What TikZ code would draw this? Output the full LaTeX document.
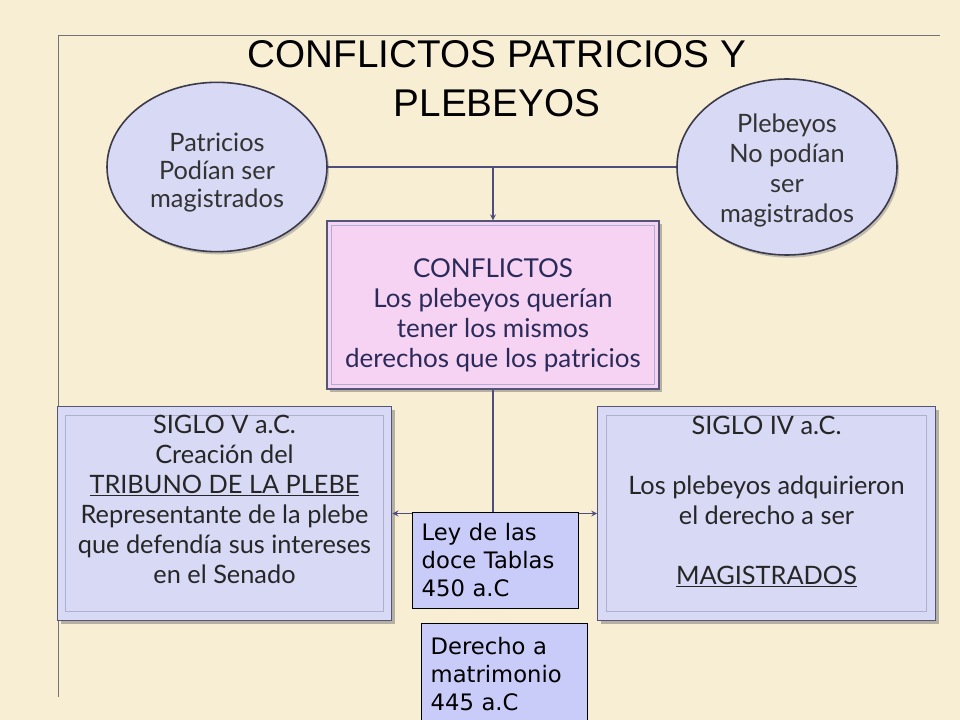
\documentclass[tikz,border=0pt]{standalone}
\usepackage{fontspec}
\setmainfont{Lato}
\newfontfamily\titlefont{Liberation Sans}
\newfontfamily\notefont{DejaVu Sans}
\usetikzlibrary{shapes.geometric,shadows}

\definecolor{parchment}{HTML}{F8EED3}
\definecolor{lavender}{HTML}{D7D9F5}
\definecolor{rosy}{HTML}{F6D3F3}
\definecolor{notefill}{HTML}{C9CBF9}
\definecolor{linkcol}{HTML}{4E4E7E}
\definecolor{ovalline}{HTML}{3A3A4A}
\definecolor{boxline}{HTML}{55557A}
\definecolor{insetline}{HTML}{AEB0D2}
\definecolor{navytext}{HTML}{2B2B5A}

\begin{document}
\begin{tikzpicture}[
    x=0.75pt, y=-0.75pt,
    >=stealth,
    oval/.style={
      ellipse,
      draw=ovalline,
      line width=1.2pt,
      fill=lavender,
      drop shadow={shadow xshift=1.5pt,shadow yshift=-2pt,fill=black!45}
    },
    ovaltext/.style={
      align=center,
      text=black!80,
      font=\fontsize{19}{22.5}\selectfont
    },
    bevel/.style={
      rectangle,
      draw=boxline,
      line width=0.9pt,
      drop shadow={shadow xshift=2.5pt,shadow yshift=-2.5pt,fill=black!55}
    },
    boxtext/.style={
      align=center,
      font=\fontsize{19}{22.5}\selectfont
    },
    inset/.style={
      draw=insetline,
      line width=0.8pt
    },
    note/.style={
      rectangle,
      draw=black,
      line width=0.6pt,
      fill=notefill,
      align=left,
      anchor=north west,
      inner xsep=7pt,
      text width=110.5pt,
      font=\notefont\fontsize{17}{21}\selectfont
    },
    link/.style={
      draw=linkcol,
      line width=1pt
    }
  ]
    \fill[parchment] (0,0) rectangle (960,720);
    \useasboundingbox (0,0) rectangle (960,720);

    \draw[black!55,line width=0.6pt] (58,697) -- (58,35) -- (940,35);

    \node[font=\titlefont\fontsize{29}{36.5}\selectfont,align=center] (title) at (497,79)
      {CONFLICTOS PATRICIOS Y\\PLEBEYOS};

    \node[oval,minimum width=165pt,minimum height=127pt] (patricios) at (217,167) {};
    \node[oval,minimum width=165pt,minimum height=132pt] (plebeyos) at (787,167) {};
    \node[bevel,fill=rosy,minimum width=249pt,minimum height=126pt] (conflictos) at (493,305) {};
    \node[bevel,fill=lavender,minimum width=251pt,minimum height=160pt] (sigloV) at (224.5,513.5) {};
    \node[bevel,fill=lavender,minimum width=253pt,minimum height=160pt] (sigloIV) at (766.5,513.5) {};

    \foreach \n/\d in {conflictos/5,sigloV/9,sigloIV/9}
      \draw[inset] ([shift={(\d,\d)}]\n.north west) rectangle ([shift={(-\d,-\d)}]\n.south east);

    \node[ovaltext,font=\fontsize{19}{21}\selectfont] (patriciosText) at ([yshift=-4.5pt]patricios.center)
      {Patricios\\Podían ser\\magistrados};
    \node[ovaltext] (plebeyosText) at ([yshift=-2.25pt]plebeyos.center)
      {Plebeyos\\No podían\\ser\\magistrados};
    \node[boxtext,text=navytext,font=\fontsize{19.5}{22.5}\selectfont] (conflictosText) at ([yshift=-7.5pt]conflictos.center)
      {CONFLICTOS\\Los plebeyos querían\\tener los mismos\\derechos que los patricios};
    \node[boxtext,text=black!85] (sigloVText) at ([yshift=10.5pt]sigloV.center)
      {SIGLO V a.C.\\Creación del\\\underline{TRIBUNO DE LA PLEBE}\\Representante de la plebe\\que defendía sus intereses\\en el Senado};
    \node[boxtext,text=black!85] (sigloIVText) at ([yshift=9pt]sigloIV.center)
      {SIGLO IV a.C.\\[22.5pt]Los plebeyos adquirieron\\el derecho a ser\\[22.5pt]\underline{MAGISTRADOS}};

    \coordinate (top) at (patricios.east -| conflictos.north);
    \coordinate (bottom) at (conflictos.south |- sigloV.east);

    \draw[link] (patricios.east) -- (plebeyos.west);
    \draw[link,->] (top) -- (conflictos.north);
    \draw[link] (conflictos.south) -- (bottom);
    \draw[link,->] (bottom) -- (sigloV.east);
    \draw[link,->] (bottom) -- (sigloIV.west);

    \node[note,minimum width=124.5pt,minimum height=72pt] (doceTablas) at (412,512)
      {Ley de las\\doce Tablas\\450 a.C};
    \node[note,minimum width=124.5pt,minimum height=76pt] (matrimonio) at (421,623)
      {Derecho a\\matrimonio\\445 a.C};
  \end{tikzpicture}
\end{document}
